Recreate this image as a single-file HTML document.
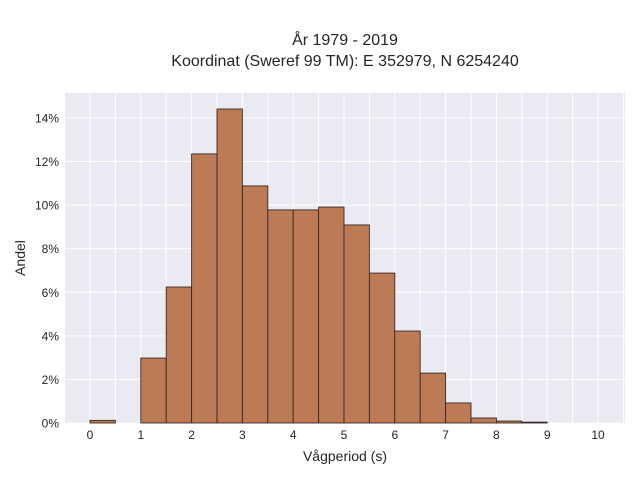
<!DOCTYPE html>
<html><head><meta charset="utf-8"><style>
body{margin:0;background:#fff;}
svg{display:block;font-family:"Liberation Sans",sans-serif;}
</style></head><body>
<svg id="chart" width="640" height="480">
<text x="345" y="45" text-anchor="middle" font-size="16" fill="#262626">År 1979 - 2019</text>
<text x="345" y="66" text-anchor="middle" font-size="16" fill="#262626">Koordinat (Sweref 99 TM): E 352979, N 6254240</text>
<rect x="65" y="93" width="560" height="330" fill="#eaeaf2"/>
<g id="grid"></g>
<g id="bars"></g>
<g id="xticks"></g>
<g id="yticks"></g>
<text x="345" y="461" text-anchor="middle" font-size="14" fill="#262626">Vågperiod (s)</text>
<text transform="translate(25,258) rotate(-90)" text-anchor="middle" font-size="14" fill="#262626">Andel</text>
</svg>
<script>
const binStarts=[0,0.5,1,1.5,2,2.5,3,3.5,4,4.5,5,5.5,6,6.5,7,7.5,8,8.5,9,9.5];
const shares=[0.12,0,2.98,6.24,12.35,14.41,10.88,9.78,9.78,9.91,9.09,6.88,4.22,2.29,0.92,0.23,0.09,0.04,0,0];
const xTickLabels=[0,1,2,3,4,5,6,7,8,9,10];
const yTickLabels=[0,2,4,6,8,10,12,14];
const binWidth=0.5;
const NS="http://www.w3.org/2000/svg";
const X=v=>90+v*50.8;
const Y=v=>423-v*21.79;
const grid=document.getElementById('grid'),bars=document.getElementById('bars'),xt=document.getElementById('xticks'),yt=document.getElementById('yticks');
for(let v=-0.5;v<=10.5;v+=0.5){const x=X(v);if(x<65||x>625)continue;
const l=document.createElementNS(NS,'line');


l.setAttribute('x1',x);l.setAttribute('x2',x);l.setAttribute('y1',93);l.setAttribute('y2',423);l.setAttribute('stroke','#fff');l.setAttribute('stroke-width','1');grid.appendChild(l);}
yTickLabels.forEach(v=>{const y=Y(v);
const l=document.createElementNS(NS,'line');


l.setAttribute('x1',65);l.setAttribute('x2',625);l.setAttribute('y1',y);l.setAttribute('y2',y);l.setAttribute('stroke','#fff');grid.appendChild(l);
const t=document.createElementNS(NS,'text');


t.setAttribute('x',59);t.setAttribute('y',y+4.5);t.setAttribute('text-anchor','end');t.setAttribute('font-size','12');t.setAttribute('fill','#262626');t.textContent=v+'%';yt.appendChild(t);});
xTickLabels.forEach(v=>{
const t=document.createElementNS(NS,'text');


t.setAttribute('x',X(v));t.setAttribute('y',439);t.setAttribute('text-anchor','middle');t.setAttribute('font-size','12');t.setAttribute('fill','#262626');t.textContent=v;xt.appendChild(t);});
binStarts.forEach((b,i)=>{const v=shares[i];if(v<=0)return;
const r=document.createElementNS(NS,'rect');


r.setAttribute('x',X(b));r.setAttribute('width',X(b+binWidth)-X(b));r.setAttribute('y',Y(v));r.setAttribute('height',Y(0)-Y(v));
r.setAttribute('fill','#bc7a57');r.setAttribute('stroke','#3b2b22');r.setAttribute('stroke-width','0.9');bars.appendChild(r);});
</script>
</body></html>
